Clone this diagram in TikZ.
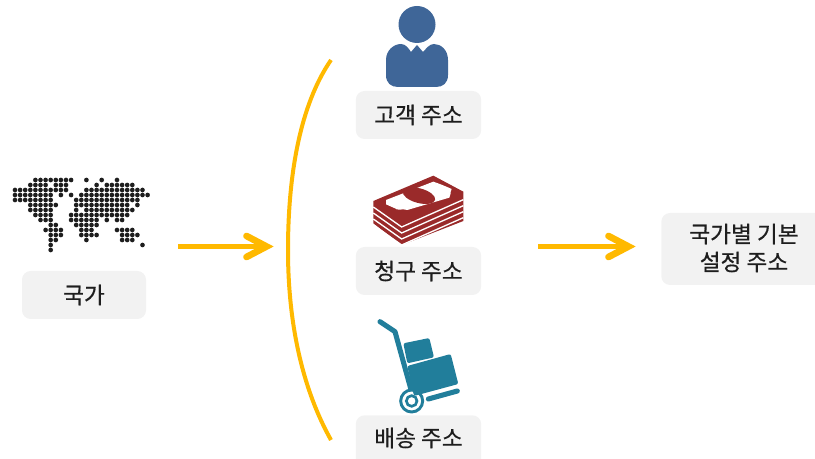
\documentclass[tikz,border=0pt]{standalone}
\usepackage{fontspec}
\setmainfont[FakeBold=0.5]{Noto Sans CJK KR}
\definecolor{lbl}{HTML}{F2F2F2}
\definecolor{gold}{HTML}{FFB900}
\definecolor{blu}{HTML}{3F6698}
\definecolor{cash}{HTML}{9A2A2A}
\definecolor{teal}{HTML}{217E9B}
\definecolor{ink}{HTML}{1E1E1E}
\tikzset{
 labelbox/.style={fill=lbl,rounded corners=6.5pt,inner sep=0pt,text=ink,font=\fontsize{17}{21}\selectfont,align=center},
 labeltext/.style={text=ink,font=\fontsize{17}{21}\selectfont,align=center,inner sep=0pt},
 flow/.style={draw=gold,line width=3.8pt},
 flowhead/.style={draw=gold,line width=5pt,line join=miter,line cap=round},
 dotm/.style={fill=ink},
}
\newcommand{\dotrow}[2]{\foreach \i in {#2} {\fill[dotm] ({15+5.1*\i},{180+5*#1}) circle[radius=2.35];}}
\begin{document}
\begin{tikzpicture}[x=0.75pt,y=-0.75pt]
\useasboundingbox (0,0) rectangle (815,459);
\clip (0,0) rectangle (815,459);
% labels
\node[labelbox,minimum width=93pt,minimum height=36pt] (country) at (84,295) {국가};
\node[labelbox,minimum width=94pt,minimum height=36pt] (cust) at (418.5,115) {고객 주소};
\node[labelbox,minimum width=94pt,minimum height=36pt] (bill) at (418.5,271) {청구 주소};
\node[labelbox,minimum width=94pt,minimum height=40pt] (shipbox) at (418.5,442) {};
\node[labeltext] (ship) at (418.5,438) {배송 주소};
\node[labelbox,minimum width=151pt,minimum height=54pt] (def) at (762,249) {};
\node[labeltext] (deftext) at (744,248) {국가별 기본\\설정 주소};
% map
\dotrow{0}{4,...,11,14,17,20}
\dotrow{1}{3,...,6,8,9,10,16,18,19,...,23}
\dotrow{2}{0,...,10,14,15,...,25}
\dotrow{3}{0,...,7,9,11,13,14,...,26}
\dotrow{4}{0,...,7,12,13,...,24}
\dotrow{5}{3,...,8,12,13,...,22,24}
\dotrow{6}{3,...,7,12,14,15,...,23}
\dotrow{7}{4,...,7,11,12,...,22}
\dotrow{8}{5,6,7,11,12,...,16,18,20,21}
\dotrow{9}{7,8,12,13,...,16}
\dotrow{10}{6,7,8,9,13,14,15,20,21,22,23}
\dotrow{11}{7,8,9,13,14,15,16,21,22,23,24}
\dotrow{12}{7,8,14,21,22,23}
\dotrow{13}{7,25}
\dotrow{14}{7}
% person
\fill[blu] (417,24.5) circle[radius=18.5];
\fill[blu] (386,60)
  .. controls (386,50) and (394,44) .. (401,44)
  .. controls (406,44) and (409,49) .. (411,52)
  -- (417,45) -- (423,52)
  .. controls (426,49) and (429,44) .. (434,44)
  .. controls (441,44) and (448,50) .. (448,60)
  -- (448,75) .. controls (448,83) and (443,87) .. (436,87)
  -- (398,87) .. controls (391,87) and (386,83) .. (386,75) -- cycle;
% money
\begin{scope}[shift={(350,165)},scale=1/3]
\fill[cash] (70,108) -- (250,32) -- (340,80) -- (340,168) -- (155,240) -- (70,175) -- cycle;
\foreach \d in {0,18,36,54} {
  \draw[white,line width=1pt] (70,{126+\d}) -- (155,{186+\d}) -- (340,{104+\d});
}
\fill[white] (108,105) -- (250,50) .. controls (265,55) and (290,65) .. (305,72)
  .. controls (298,85) and (305,90) .. (298,98) -- (172,135) .. controls (160,130) and (140,138) .. (135,130) -- (108,118) -- cycle;
\fill[cash] (207,92) ellipse[x radius=50,y radius=22,rotate=-15];
\end{scope}
% trolley
\begin{scope}[shift={(350,310)},scale=1/3]
\draw[teal,line width=3.8pt,line cap=round,line join=round] (90,35) -- (135,65) -- (182,235);
\fill[teal,rounded corners=1.5pt] (160,100) -- (238,84) -- (252,142) -- (172,160) -- cycle;
\fill[teal,rounded corners=1.5pt] (172,168) -- (302,132) -- (325,222) -- (192,258) -- cycle;
\draw[teal,line width=3.8pt,line cap=round] (235,267) -- (322,243);
\draw[teal,line width=2.2pt] (185,273) circle[radius=33];
\draw[teal,line width=2pt] (185,273) circle[radius=16];
\end{scope}
% connectors
\coordinate (a1s) at (178,246.5);
\coordinate (a1e) at (266.5,246.5);
\coordinate (a2s) at (538,246.5);
\coordinate (a2e) at (628.5,246.5);
\coordinate (arcT) at (331,60);
\coordinate (arcB) at (331,440);
\draw[flow] (a1s) -- (a1e);
\draw[flowhead] ([shift={(-20,-10.5)}]a1e) -- (a1e) -- ([shift={(-20,10.5)}]a1e);
\draw[flow] (a2s) -- (a2e);
\draw[flowhead] ([shift={(-20,-10.5)}]a2e) -- (a2e) -- ([shift={(-20,10.5)}]a2e);
\draw[gold,line width=3pt] (arcT) .. controls (300,105) and (288,175) .. (288,250) .. controls (288,325) and (303,390) .. (arcB);
\end{tikzpicture}
\end{document}
